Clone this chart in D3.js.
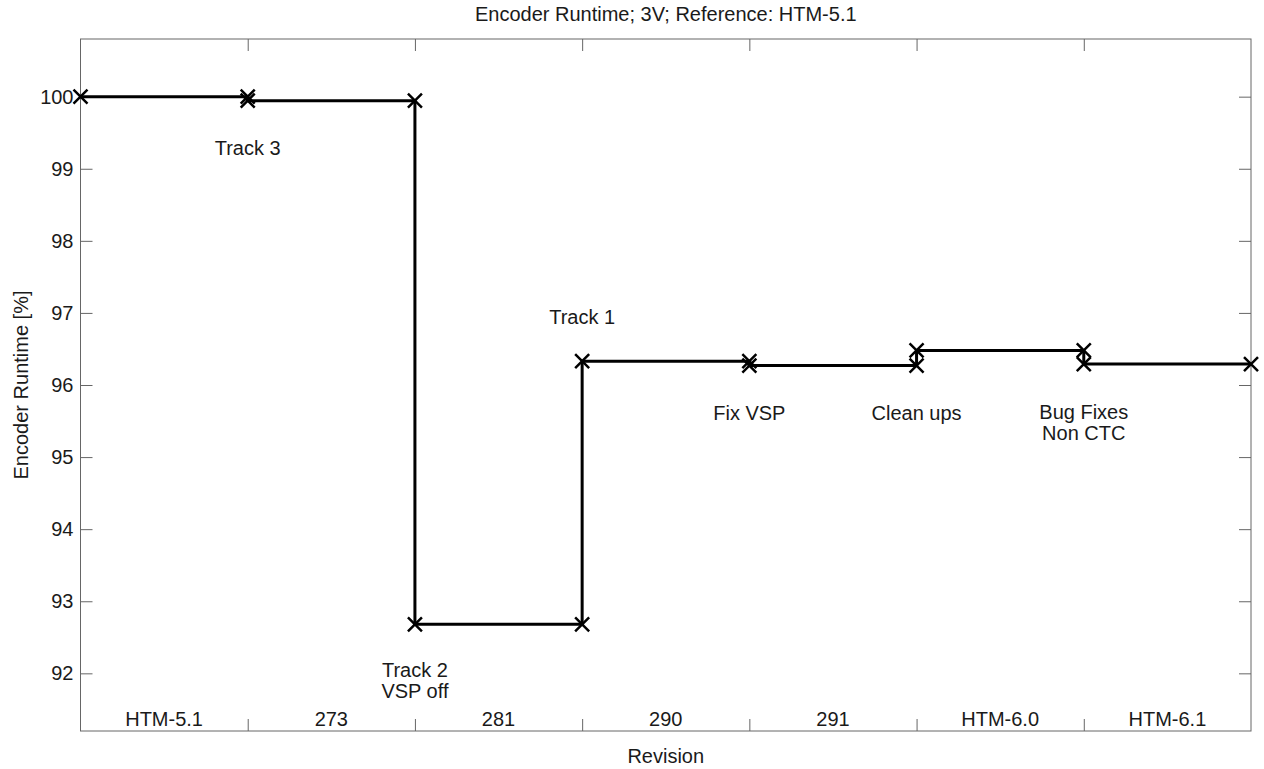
<!DOCTYPE html>
<html>
<head>
<meta charset="utf-8">
<script src="https://cdn.jsdelivr.net/npm/d3@7"></script>
<style>
  html, body { margin: 0; padding: 0; background: #fff; }
  svg text { font-family: "Liberation Sans", Arial, sans-serif; fill: #1a1a1a; }
</style>
</head>
<body>
<svg id="chart" width="1264" height="769"></svg>
<script>
// ---- data ----
const revisions = ["HTM-5.1", "273", "281", "290", "291", "HTM-6.0", "HTM-6.1"];
const runtime = [100.0, 99.945, 92.68, 96.33, 96.27, 96.48, 96.29];
const yTicks = [92, 93, 94, 95, 96, 97, 98, 99, 100];
const annoText = [["Track 3"], ["Track 2", "VSP off"], ["Track 1"], ["Fix VSP"], ["Clean ups"], ["Bug Fixes", "Non CTC"]];
const annoX = [1, 2, 3, 4, 5, 6];
const annoY = [99.29, 91.895, 96.94, 95.61, 95.61, 95.48];

const title = "Encoder Runtime; 3V; Reference: HTM-5.1";
const xLabel = "Revision";
const yLabel = "Encoder Runtime [%]";

// ---- layout ----
const L = 80.5, R = 1251, T = 39, B = 731;
const FS = 20;
const svg = d3.select("#chart");

const x = d3.scaleLinear().domain([0, revisions.length]).range([L, R]);
const y = d3.scaleLinear().domain([91.2, 100.8]).range([B, T]);

// axes box
const axisColor = "#666";
svg.append("rect").attr("x", L).attr("y", T).attr("width", R - L).attr("height", B - T)
  .attr("fill", "none").attr("stroke", axisColor).attr("stroke-width", 1);

// y axis (left) with inward ticks
const yAxisL = d3.axisLeft(y).tickValues(yTicks).tickSize(-12).tickPadding(20).tickFormat(d3.format("d"));
const gyl = svg.append("g").attr("transform", `translate(${L},0)`).call(yAxisL);
gyl.select(".domain").remove();
gyl.selectAll(".tick line").attr("stroke", axisColor);
gyl.selectAll(".tick text").attr("font-size", FS).attr("fill", "#1a1a1a").attr("x", -7);

const yAxisR = d3.axisRight(y).tickValues(yTicks).tickSize(-12).tickFormat("");
const gyr = svg.append("g").attr("transform", `translate(${R},0)`).call(yAxisR);
gyr.select(".domain").remove();
gyr.selectAll(".tick line").attr("stroke", axisColor);

// x ticks (top & bottom) at category boundaries
const xTickVals = d3.range(1, revisions.length);
const xAxisB = d3.axisBottom(x).tickValues(xTickVals).tickSize(-12).tickFormat("");
const gxb = svg.append("g").attr("transform", `translate(0,${B})`).call(xAxisB);
gxb.select(".domain").remove();
gxb.selectAll(".tick line").attr("stroke", axisColor);
const xAxisT = d3.axisTop(x).tickValues(xTickVals).tickSize(-12).tickFormat("");
const gxt = svg.append("g").attr("transform", `translate(0,${T})`).call(xAxisT);
gxt.select(".domain").remove();
gxt.selectAll(".tick line").attr("stroke", axisColor);

// category labels inside plot
svg.append("g").selectAll("text").data(revisions).join("text")
  .attr("x", (d, i) => x(i + 0.5)).attr("y", B - 5)
  .attr("text-anchor", "middle").attr("font-size", FS).text(d => d);

// step data
const pts = [];
runtime.forEach((v, i) => {
  pts.push([i, v]);
  pts.push([i + 1, v]);
});
const line = d3.line().x(d => x(d[0])).y(d => y(d[1]));
svg.append("path").datum(pts).attr("d", line)
  .attr("fill", "none").attr("stroke", "#000").attr("stroke-width", 3);

// x markers
const ms = 7;
svg.append("g").selectAll("path").data(pts).join("path")
  .attr("d", d => {
    const cx = x(d[0]), cy = y(d[1]);
    return `M${cx - ms},${cy - ms}L${cx + ms},${cy + ms}M${cx - ms},${cy + ms}L${cx + ms},${cy - ms}`;
  })
  .attr("stroke", "#000").attr("stroke-width", 2.5).attr("fill", "none");

// annotations (multi-line centred on anchor)
const lh = 21;
annoText.forEach((lines, i) => {
  const n = lines.length;
  lines.forEach((t, j) => {
    svg.append("text").attr("x", x(annoX[i])).attr("y", y(annoY[i]) + (j - (n - 1) / 2) * lh)
      .attr("text-anchor", "middle").attr("dominant-baseline", "central")
      .attr("font-size", FS).text(t);
  });
});

// title & labels
svg.append("text").attr("x", (L + R) / 2).attr("y", 14).attr("text-anchor", "middle")
  .attr("dominant-baseline", "central").attr("font-size", FS).text(title);
svg.append("text").attr("x", (L + R) / 2).attr("y", 756).attr("text-anchor", "middle")
  .attr("dominant-baseline", "central").attr("font-size", FS).text(xLabel);
svg.append("text").attr("transform", `translate(21,${(T + B) / 2}) rotate(-90)`)
  .attr("text-anchor", "middle").attr("dominant-baseline", "central")
  .attr("font-size", FS).text(yLabel);
</script>
</body>
</html>
